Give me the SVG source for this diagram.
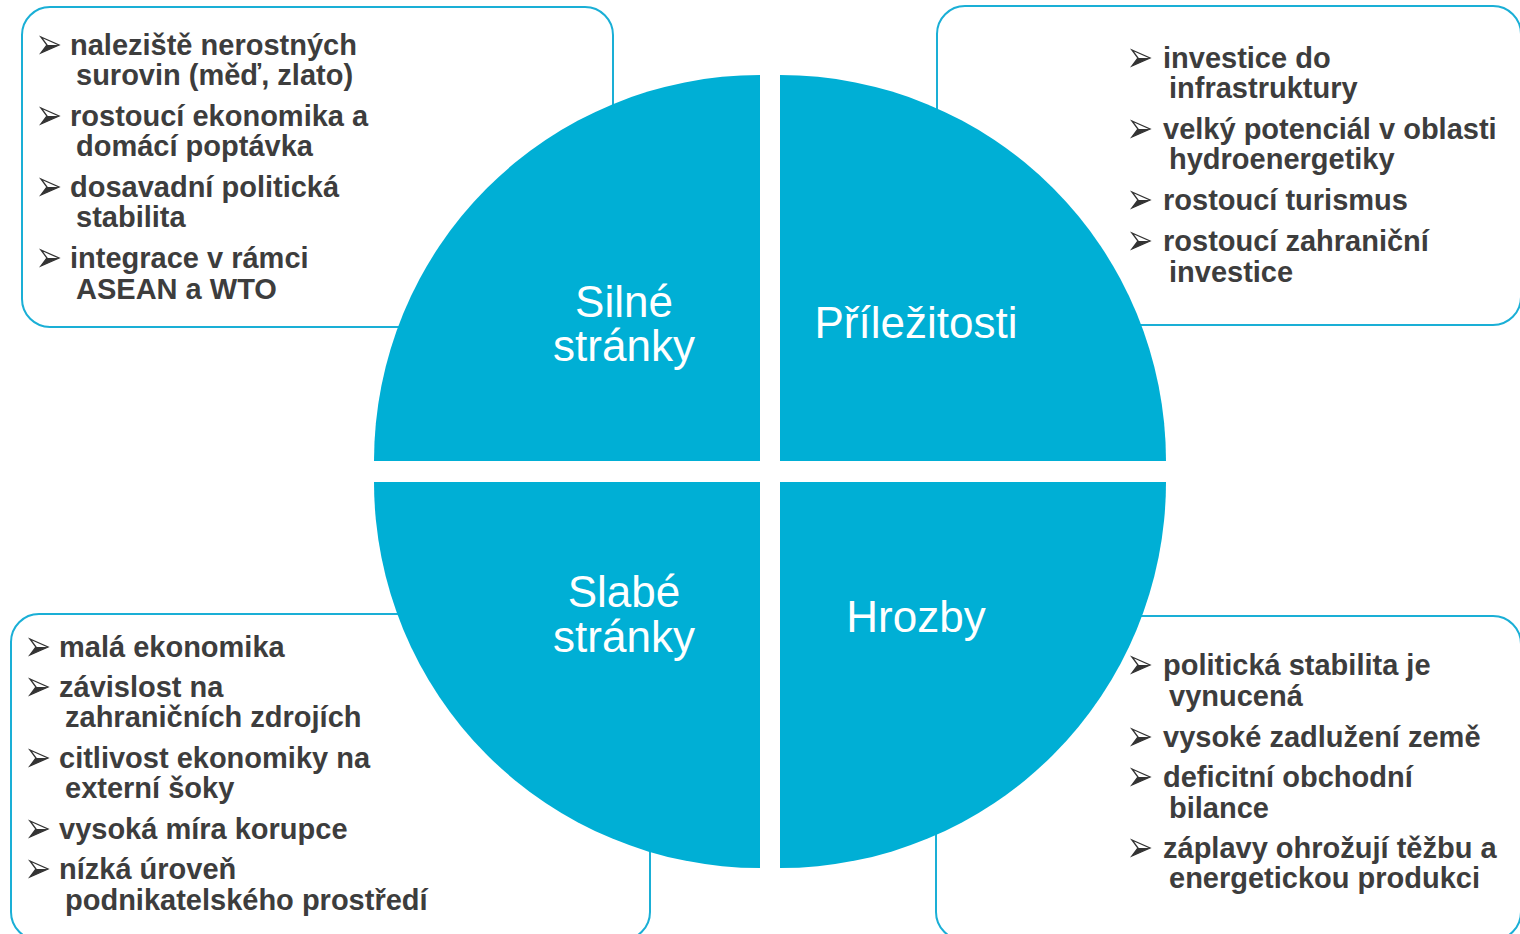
<svg xmlns="http://www.w3.org/2000/svg" xmlns:xlink="http://www.w3.org/1999/xlink" width="1520" height="934" viewBox="0 0 1520 934">
  <style>
    .box { fill: #ffffff; stroke: #1aafd6; stroke-width: 2; }
    .quad { fill: #00afd5; }
    .qlabel { font-family: "Liberation Sans", Arial, sans-serif; font-size: 44px; fill: #ffffff; text-anchor: middle; }
    .item { font-family: "Liberation Sans", Arial, sans-serif; font-size: 29px; font-weight: bold; fill: #3d3d3d; }
  </style>
  <defs>
    <!-- arrowhead bullet: outlined upper half, solid lower half -->
    <g id="bullet">
      <path d="M0,-8 L18,0 L0,8 L6,0 Z" fill="#ffffff" stroke="#333333" stroke-width="1.3" stroke-linejoin="miter"/>
      <path d="M6,0 L18,0 L0,8 Z" fill="#333333"/>
    </g>
  </defs>
  <rect width="1520" height="934" fill="#ffffff"/>

  <!-- text boxes (drawn first, the circle overlaps their inner corners) -->
  <g id="box-strengths">
    <rect class="box" x="22" y="7" width="591" height="320" rx="28"/>
    <use xlink:href="#bullet" x="41" y="45"/>
    <text class="item" x="70" y="55">naleziště nerostných</text>
    <text class="item" x="76" y="85">surovin (měď, zlato)</text>
    <use xlink:href="#bullet" x="41" y="116"/>
    <text class="item" x="70" y="126">rostoucí ekonomika a</text>
    <text class="item" x="76" y="156">domácí poptávka</text>
    <use xlink:href="#bullet" x="41" y="187"/>
    <text class="item" x="70" y="197">dosavadní politická</text>
    <text class="item" x="76" y="227">stabilita</text>
    <use xlink:href="#bullet" x="41" y="258"/>
    <text class="item" x="70" y="268">integrace v rámci</text>
    <text class="item" x="76" y="299">ASEAN a WTO</text>
  </g>

  <g id="box-opportunities">
    <rect class="box" x="937" y="6" width="584" height="319" rx="28"/>
    <use xlink:href="#bullet" x="1132" y="58"/>
    <text class="item" x="1163" y="68">investice do</text>
    <text class="item" x="1169" y="98">infrastruktury</text>
    <use xlink:href="#bullet" x="1132" y="129"/>
    <text class="item" x="1163" y="139">velký potenciál v oblasti</text>
    <text class="item" x="1169" y="169">hydroenergetiky</text>
    <use xlink:href="#bullet" x="1132" y="200"/>
    <text class="item" x="1163" y="210">rostoucí turismus</text>
    <use xlink:href="#bullet" x="1132" y="241"/>
    <text class="item" x="1163" y="251">rostoucí zahraniční</text>
    <text class="item" x="1169" y="282">investice</text>
  </g>

  <g id="box-weaknesses">
    <rect class="box" x="11" y="614" width="639" height="326" rx="28"/>
    <use xlink:href="#bullet" x="30" y="647"/>
    <text class="item" x="59" y="657">malá ekonomika</text>
    <use xlink:href="#bullet" x="30" y="687"/>
    <text class="item" x="59" y="697">závislost na</text>
    <text class="item" x="65" y="727">zahraničních zdrojích</text>
    <use xlink:href="#bullet" x="30" y="758"/>
    <text class="item" x="59" y="768">citlivost ekonomiky na</text>
    <text class="item" x="65" y="798">externí šoky</text>
    <use xlink:href="#bullet" x="30" y="829"/>
    <text class="item" x="59" y="839">vysoká míra korupce</text>
    <use xlink:href="#bullet" x="30" y="869"/>
    <text class="item" x="59" y="879">nízká úroveň</text>
    <text class="item" x="65" y="910">podnikatelského prostředí</text>
  </g>

  <g id="box-threats">
    <rect class="box" x="936" y="616" width="585" height="324" rx="28"/>
    <use xlink:href="#bullet" x="1132" y="665"/>
    <text class="item" x="1163" y="675">politická stabilita je</text>
    <text class="item" x="1169" y="706">vynucená</text>
    <use xlink:href="#bullet" x="1132" y="737"/>
    <text class="item" x="1163" y="747">vysoké zadlužení země</text>
    <use xlink:href="#bullet" x="1132" y="777"/>
    <text class="item" x="1163" y="787">deficitní obchodní</text>
    <text class="item" x="1169" y="818">bilance</text>
    <use xlink:href="#bullet" x="1132" y="848"/>
    <text class="item" x="1163" y="858">záplavy ohrožují těžbu a</text>
    <text class="item" x="1169" y="888">energetickou produkci</text>
  </g>

  <!-- four quarter sectors of the central circle -->
  <g id="quad-strengths">
    <path class="quad" d="M760,461 L374,461 A386,386 0 0 1 760,75 Z"/>
    <text class="qlabel" x="624" y="317">Silné<tspan x="624" dy="44">stránky</tspan></text>
  </g>
  <g id="quad-opportunities">
    <path class="quad" d="M780,461 L780,75 A386,386 0 0 1 1166,461 Z"/>
    <text class="qlabel" x="916" y="338">Příležitosti</text>
  </g>
  <g id="quad-weaknesses">
    <path class="quad" d="M760,482 L760,868 A386,386 0 0 1 374,482 Z"/>
    <text class="qlabel" x="624" y="607">Slabé<tspan x="624" dy="45">stránky</tspan></text>
  </g>
  <g id="quad-threats">
    <path class="quad" d="M780,482 L1166,482 A386,386 0 0 1 780,868 Z"/>
    <text class="qlabel" x="916" y="632">Hrozby</text>
  </g>
</svg>
